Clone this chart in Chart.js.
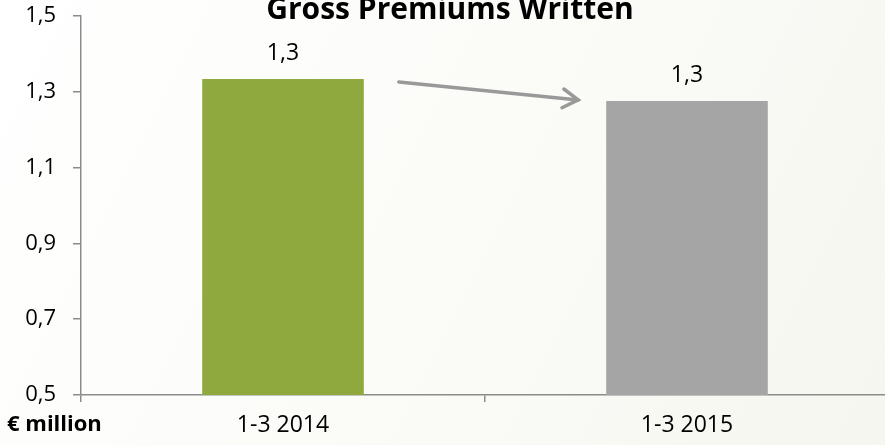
<!DOCTYPE html>
<html>
<head>
<meta charset="utf-8">
<script src="https://cdn.jsdelivr.net/npm/chart.js@4/dist/chart.umd.min.js"></script>
<style>
  html, body { margin: 0; padding: 0; overflow: hidden; background: #fdfdfb; }
  #wrap { width: 885px; height: 445px; overflow: hidden; position: relative; }
  #c { display: block; }
</style>
</head>
<body>
<div id="wrap"><canvas id="c" width="889" height="445" style="width:889px;height:445px"></canvas></div>
<script>
const categories = ['1-3 2014', '1-3 2015'];
const premiums = [1.334, 1.276];
const barColors = ['#8fa93e', '#a5a5a5'];
const yTicks = [0.5, 0.7, 0.9, 1.1, 1.3, 1.5];
const titleText = 'Gross Premiums Written';
const unitText = '€ million';

const FONT = "'Open Sans', 'DejaVu Sans', sans-serif";
const fmt = v => v.toFixed(1).replace('.', ',');

const bgPlugin = {
  id: 'bg',
  beforeDraw(chart) {
    const { ctx, width, height } = chart;
    ctx.save();
    const g = ctx.createLinearGradient(0, 0, width, height);
    g.addColorStop(0, '#ffffff');
    g.addColorStop(0.5, '#fbfbf8');
    g.addColorStop(1, '#f6f6f0');
    ctx.fillStyle = g;
    ctx.fillRect(0, 0, width, height);
    ctx.restore();
  }
};

const extrasPlugin = {
  id: 'extras',
  afterDatasetsDraw(chart) {
    const { ctx } = chart;
    const meta = chart.getDatasetMeta(0);
    ctx.save();
    ctx.fillStyle = '#000';
    ctx.font = '23px ' + FONT;
    ctx.textAlign = 'center';
    ctx.textBaseline = 'bottom';
    meta.data.forEach((bar, i) => {
      ctx.fillText(fmt(premiums[i]), bar.x, bar.y - 14);
    });
    const b0 = meta.data[0], b1 = meta.data[1];
    const x0 = b0.x + b0.width / 2 + 35, y0 = b0.y + 3;
    const x1 = b1.x - b1.width / 2 - 28, y1 = b1.y - 1;
    ctx.strokeStyle = '#999999';
    ctx.lineWidth = 3.5;
    ctx.lineCap = 'round';
    ctx.beginPath();
    ctx.moveTo(x0, y0);
    ctx.lineTo(x1, y1);
    ctx.stroke();
    const ang = Math.atan2(y1 - y0, x1 - x0);
    const hl = 18, ha = 0.55;
    ctx.beginPath();
    ctx.moveTo(x1 - hl * Math.cos(ang - ha), y1 - hl * Math.sin(ang - ha));
    ctx.lineTo(x1, y1);
    ctx.lineTo(x1 - hl * Math.cos(ang + ha), y1 - hl * Math.sin(ang + ha));
    ctx.stroke();
    ctx.font = 'bold 30px ' + FONT;
    ctx.textBaseline = 'alphabetic';
    ctx.fillText(titleText, 450, 19);
    ctx.font = 'bold 22px ' + FONT;
    ctx.textAlign = 'left';
    ctx.textBaseline = 'middle';
    ctx.fillText(unitText, 7, 425);
    ctx.restore();
  }
};

new Chart(document.getElementById('c'), {
  type: 'bar',
  data: {
    labels: categories,
    datasets: [{
      data: premiums,
      backgroundColor: barColors,
      borderWidth: 0,
      barPercentage: 0.8,
      categoryPercentage: 0.5
    }]
  },
  options: {
    responsive: false,
    animation: false,
    devicePixelRatio: 1,
    layout: { padding: { top: 16, right: 0, left: 0, bottom: 0 } },
    plugins: { legend: { display: false }, tooltip: { enabled: false }, title: { display: false } },
    scales: {
      y: {
        min: 0.5, max: 1.5,
        afterBuildTicks(axis) { axis.ticks = yTicks.map(v => ({ value: v })); },
        afterFit(axis) { axis.width = 81; axis.paddingTop = 0; axis.paddingBottom = 0; },
        border: { color: '#8c8c8c', width: 1.5 },
        grid: { drawOnChartArea: false, drawTicks: true, tickLength: 8, color: '#8c8c8c', lineWidth: 1.5 },
        ticks: { padding: 17, color: '#000', font: { family: FONT, size: 22 }, callback: v => fmt(v) }
      },
      x: {
        afterFit(axis) { axis.height = 50; axis.paddingLeft = 0; axis.paddingRight = 0; },
        border: { color: '#8c8c8c', width: 1.5 },
        grid: { drawOnChartArea: false, drawTicks: true, tickLength: 7, color: '#8c8c8c', lineWidth: 1.5, offset: true },
        ticks: { padding: 10, color: '#000', font: { family: FONT, size: 23 } }
      }
    }
  },
  plugins: [bgPlugin, extrasPlugin]
});
</script>
</body>
</html>
